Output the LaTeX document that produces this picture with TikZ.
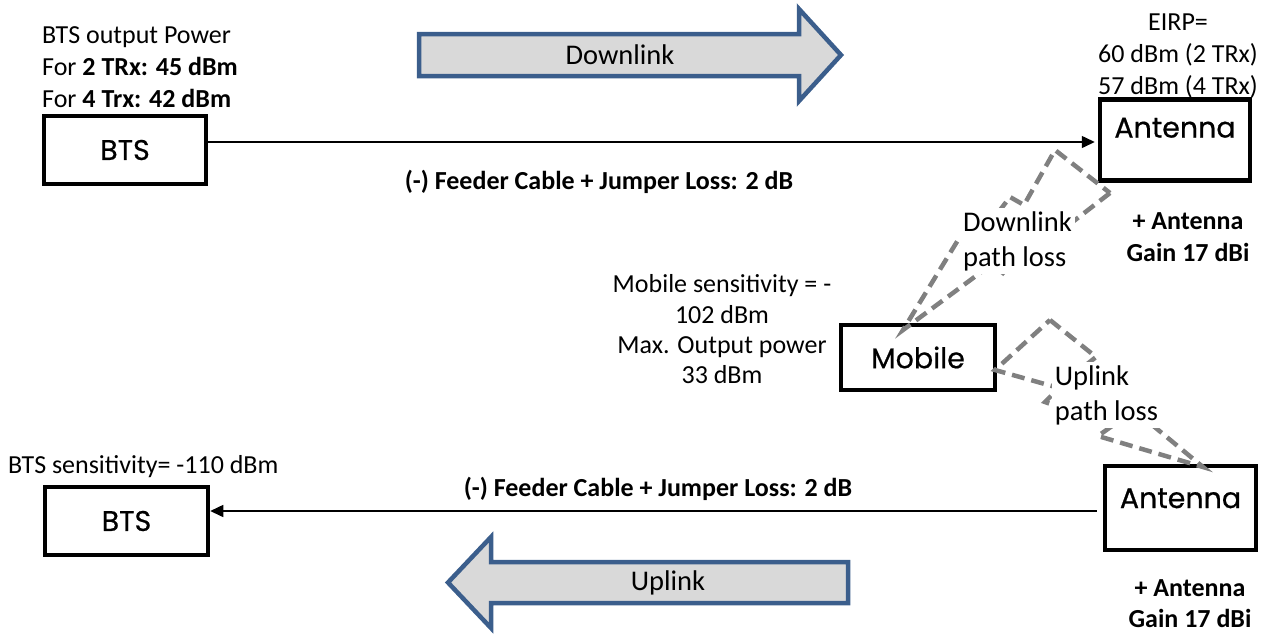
\documentclass[tikz,border=0pt]{standalone}
\usepackage{fontspec}
\setmainfont{Carlito}
\newfontfamily\unitfont[FakeBold=0.6]{Poppins}
\usetikzlibrary{arrows.meta}
\definecolor{bandfill}{HTML}{D9D9D9}
\definecolor{bandline}{HTML}{3B5E8C}
\definecolor{lossgray}{HTML}{808080}
\tikzset{
  unit/.style={draw=black, line width=4.5, fill=white, inner sep=0,
    font=\unitfont\fontsize{28.5}{32}\selectfont},
  note/.style={inner sep=0, font=\fontsize{26}{32}\selectfont},
  boldnote/.style={inner sep=0, font=\fontsize{26}{32}\selectfont\bfseries},
  bignote/.style={inner sep=0, font=\fontsize{28.5}{35}\selectfont},
  wire/.style={line width=1.5, -{Triangle[length=13,width=12]}},
  band/.style={draw=bandline, fill=bandfill, line width=4.5, line join=miter},
  pathloss/.style={draw=lossgray, line width=4.5, dash pattern=on 13 off 7, line join=miter},
  losslabel/.style={fill=white, align=left, inner sep=3, font=\fontsize{28.5}{35}\selectfont}
}
\begin{document}
\begin{tikzpicture}[x=1pt, y=-1pt]
\useasboundingbox (0,0) rectangle (1268,633);

% equipment boxes
\node[unit, minimum width=162, minimum height=68] (bts1) at (125,150) {BTS};
\node[unit, minimum width=163, minimum height=68] (bts2) at (126.5,521) {BTS};
\node[unit, minimum width=150, text height=38, text depth=43] (ant1) at (1175,140) {Antenna};
\node[unit, minimum width=151, text height=42, text depth=42] (ant2) at (1180.5,508) {Antenna};
\node[unit, minimum width=154, minimum height=65] (mob) at (918,357.5) {Mobile};

% direction bands
\draw[band] (419,34) -- (799,34) -- (799,9) -- (841,55) -- (799,101) -- (799,76) -- (419,76) -- cycle;
\node[bignote] (dltxt) at (620,55) {Downlink};
\draw[band] (848,562) -- (491,562) -- (491,537) -- (448,582.5) -- (491,628) -- (491,603) -- (848,603) -- cycle;
\node[bignote] (ultxt) at (668,582.5) {Uplink};

% feeder links
\coordinate (dlrow) at (0,142);
\coordinate (ulrow) at (0,511);
\draw[wire, shorten >=3] (bts1.east |- dlrow) -- (ant1.west |- dlrow);
\draw[wire, shorten <=6] (ant2.west |- ulrow) -- (bts2.east |- ulrow);

% radio path losses
\draw[pathloss] (1110,193) -- (1057,234) -- (1048,226) -- (1003,273) -- (992,264)
  -- (903,330) -- (958,240) -- (968,252) -- (1010,197) -- (1024,205) -- (1055,150) -- cycle;
\draw[pathloss] (1050,320) -- (1096,357) -- (1086,365) -- (1140,395) -- (1128,405)
  -- (1203,467) -- (1098,436) -- (1112,426) -- (1045,402) -- (1059,388) -- (995,370) -- cycle;
\node[losslabel] (dlloss) at (1017.5,241) {Downlink\\path loss};
\node[losslabel] (ulloss) at (1106.5,395) {Uplink\\path loss};

% BTS transmit power
\node[note, anchor=base west] (txp1) at (42,43) {BTS output Power};
\node[note, anchor=base west] (txp2) at (42,75) {For \textbf{2 TRx: 45 dBm}};
\node[note, anchor=base west] (txp3) at (42,107) {For \textbf{4 Trx: 42 dBm}};

% EIRP
\node[note, anchor=base] (eirp1) at (1178,30) {EIRP=};
\node[note, anchor=base] (eirp2) at (1178,62) {60 dBm (2 TRx)};
\node[note, anchor=base] (eirp3) at (1178,94) {57 dBm (4 TRx)};

% feeder losses
\node[boldnote, anchor=base] (fl1) at (599,189) {(-) Feeder Cable + Jumper Loss: 2 dB};
\node[boldnote, anchor=base] (fl2) at (658,496) {(-) Feeder Cable + Jumper Loss: 2 dB};

% antenna gains
\node[boldnote, anchor=base] (g1a) at (1188,229) {+ Antenna};
\node[boldnote, anchor=base] (g1b) at (1188,261) {Gain 17 dBi};
\node[boldnote, anchor=base] (g2a) at (1190,596) {+ Antenna};
\node[boldnote, anchor=base] (g2b) at (1190,627) {Gain 17 dBi};

% mobile figures
\node[note, anchor=base] (ms1) at (722,292) {Mobile sensitivity = -};
\node[note, anchor=base] (ms2) at (722,323) {102 dBm};
\node[note, anchor=base] (ms3) at (722,353) {Max. Output power};
\node[note, anchor=base] (ms4) at (722,383) {33 dBm};

% BTS receive sensitivity
\node[note, anchor=base west] (rxs) at (8,473) {BTS sensitivity= -110 dBm};
\end{tikzpicture}
\end{document}
